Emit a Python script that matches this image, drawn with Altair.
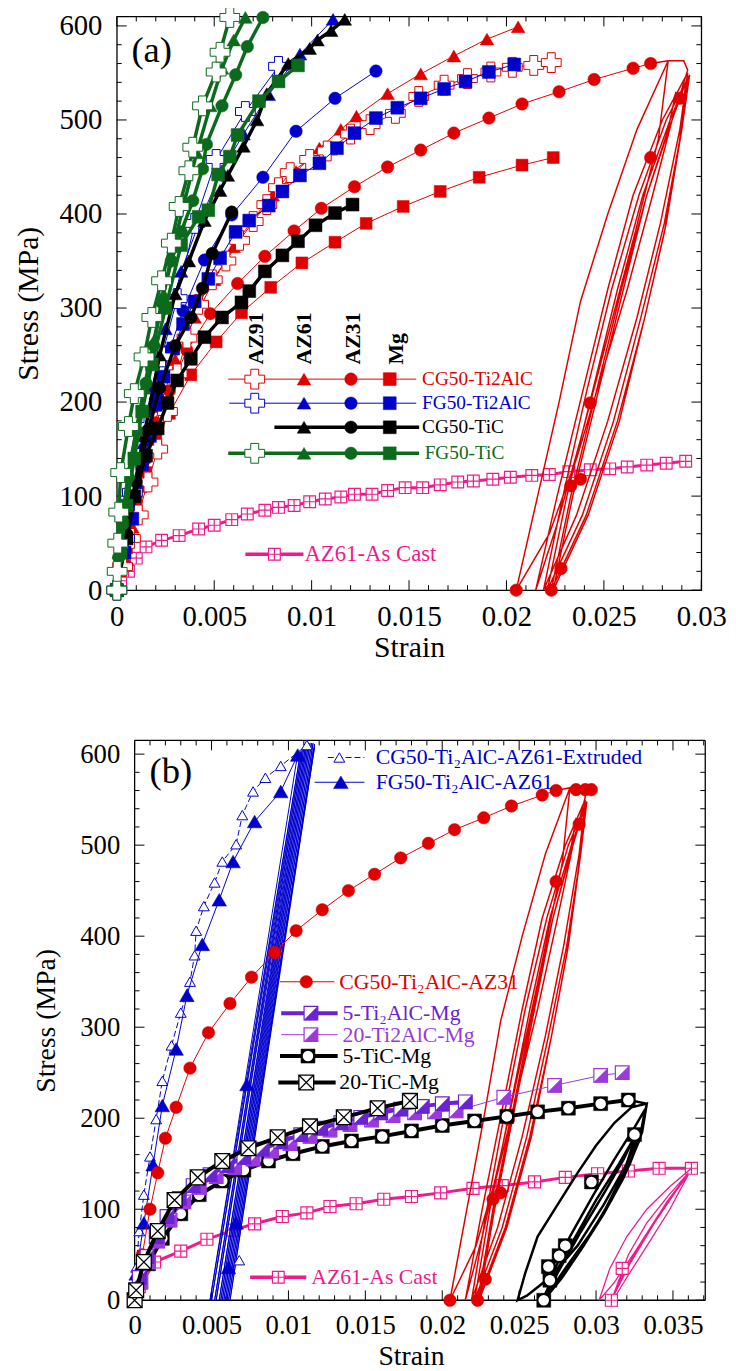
import altair as alt
import pandas as pd

FONT = "Liberation Serif"
RED = "#e00000"; BLUE = "#0000cc"; GREEN = "#0c6a1c"; BLACK = "#000000"
PINK = "#f01a8c"; PURD = "#6b22d2"; PURL = "#9c39dc"

BOXPLUS = "M-1,-1L1,-1L1,1L-1,1Z M0,-1L0,1 M-1,0L1,0"
BOXX = "M-1,-1L1,-1L1,1L-1,1Z M-1,-1L1,1 M1,-1L-1,1"
HALF = "M1,-1L1,1L-1,1Z"

# ======================= panel (a) data =======================
a_x_ticks = [0, 0.005, 0.01, 0.015, 0.02, 0.025, 0.03]
a_x_minor = [0.001, 0.002, 0.003, 0.004, 0.006, 0.007, 0.008, 0.009, 0.011, 0.012, 0.013, 0.014,
             0.016, 0.017, 0.018, 0.019, 0.021, 0.022, 0.023, 0.024, 0.026, 0.027, 0.028, 0.029]
y_ticks = [0, 100, 200, 300, 400, 500, 600]
y_minor = [20, 40, 60, 80, 120, 140, 160, 180, 220, 240, 260, 280, 320, 340, 360, 380,
           420, 440, 460, 480, 520, 540, 560, 580]

# CG50-Ti2AlC (red)
a_rc_x = [0, 0.0003, 0.0007, 0.0011, 0.0016, 0.0021, 0.0026, 0.0031, 0.0036, 0.0042, 0.0049, 0.0056, 0.0063, 0.0070, 0.0077, 0.0083, 0.0089, 0.0099, 0.0108, 0.0120, 0.0130, 0.0143, 0.0155, 0.0168, 0.0180, 0.0192, 0.0203, 0.0214, 0.0223]
a_rc_y = [0, 25, 55, 80, 115, 150, 190, 230, 268, 304, 330, 350, 372, 392, 410, 428, 444, 458, 467, 485, 495, 507, 525, 537, 544, 551, 556, 558, 561]
a_rt_x = [0, 0.0004, 0.0008, 0.0012, 0.0016, 0.0022, 0.0030, 0.0040, 0.0050, 0.0060, 0.0070, 0.0080, 0.0092, 0.0104, 0.0115, 0.0123, 0.0139, 0.0156, 0.0173, 0.0190, 0.0206]
a_rt_y = [0, 35, 67, 110, 153, 195, 245, 290, 330, 365, 395, 420, 445, 470, 490, 504, 528, 549, 568, 586, 599]
a_ro_x = [0, 0.0005, 0.0010, 0.0015, 0.0020, 0.0027, 0.0036, 0.0048, 0.0062, 0.0076, 0.0091, 0.0105, 0.0122, 0.0139, 0.0156, 0.0173, 0.0191, 0.0208, 0.0227, 0.0245, 0.0265, 0.0274]
a_ro_y = [0, 50, 100, 140, 178, 212, 255, 294, 326, 355, 382, 406, 429, 450, 468, 486, 502, 517, 530, 543, 555, 560]
a_rs_x = [0, 0.0005, 0.0010, 0.0015, 0.0020, 0.0027, 0.0038, 0.0051, 0.0064, 0.0079, 0.0095, 0.0112, 0.0128, 0.0147, 0.0166, 0.0186, 0.0208, 0.0224]
a_rs_y = [0, 45, 90, 125, 160, 188, 229, 264, 295, 322, 348, 370, 390, 408, 424, 439, 452, 460]
# FG50-Ti2AlC (blue)
a_bc_x = [0, 0.0004, 0.0008, 0.0012, 0.0016, 0.0023, 0.0031, 0.0040, 0.0051, 0.0066, 0.0083]
a_bc_y = [0, 55, 104, 140, 174, 248, 310, 390, 458, 509, 557]
a_bt_x = [0, 0.0005, 0.0012, 0.0018, 0.0025, 0.0033, 0.0043, 0.0054, 0.0065, 0.0078, 0.0094, 0.0111]
a_bt_y = [0, 65, 150, 215, 278, 339, 395, 446, 485, 527, 570, 607]
a_bo_x = [0, 0.0005, 0.0010, 0.0015, 0.0021, 0.0027, 0.0034, 0.0045, 0.0059, 0.0075, 0.0092, 0.0112, 0.0133]
a_bo_y = [0, 55, 110, 160, 205, 255, 297, 351, 399, 439, 488, 523, 552]
a_bs_x = [0, 0.0004, 0.0008, 0.0013, 0.0017, 0.0020, 0.0024, 0.0029, 0.0034, 0.0040, 0.0047, 0.0053, 0.0061, 0.0068, 0.0078, 0.0085, 0.0094, 0.0104, 0.0113, 0.0122, 0.0133, 0.0144, 0.0156, 0.0168, 0.0179, 0.0191, 0.0204]
a_bs_y = [0, 40, 76, 134, 164, 197, 227, 257, 283, 307, 331, 353, 381, 393, 409, 424, 441, 454, 470, 486, 502, 513, 523, 533, 541, 551, 559]
# CG50-TiC (black)
a_kt_x = [0, 0.0005, 0.0014, 0.0022, 0.0030, 0.0037, 0.0045, 0.0053, 0.0057, 0.0065, 0.0072, 0.0077, 0.0088, 0.0099, 0.0103, 0.0110, 0.0117]
a_kt_y = [0, 65, 164, 250, 315, 350, 393, 425, 441, 472, 500, 528, 560, 576, 585, 595, 607]
a_ko_x = [0, 0.0005, 0.0010, 0.0016, 0.0022, 0.0030, 0.0038, 0.0044, 0.0049, 0.0059]
a_ko_y = [0, 60, 115, 170, 215, 260, 290, 321, 358, 402]
a_ks_x = [0, 0.0005, 0.0009, 0.0015, 0.0021, 0.0026, 0.0031, 0.0038, 0.0045, 0.0054, 0.0064, 0.0068, 0.0076, 0.0085, 0.0093, 0.0102, 0.0112, 0.0121]
a_ks_y = [0, 55, 100, 143, 172, 199, 223, 246, 269, 290, 306, 318, 339, 356, 371, 388, 401, 410]
# FG50-TiC (green)
a_gc_x = [0, 0.00002, 0.00005, 0.0001, 0.0002, 0.0006, 0.0009, 0.0014, 0.0018, 0.0023, 0.0028, 0.0032, 0.0037, 0.0039, 0.0044, 0.0051, 0.0053, 0.0058]
a_gc_y = [0, 20, 50, 83, 125, 174, 209, 248, 290, 329, 369, 408, 446, 471, 515, 551, 572, 609]
a_gt_x = [0, 0.0001, 0.0003, 0.0006, 0.0010, 0.0014, 0.0019, 0.0024, 0.0029, 0.0035, 0.0041, 0.0048, 0.0054, 0.0060, 0.0066]
a_gt_y = [0, 40, 80, 125, 170, 215, 265, 315, 365, 415, 465, 515, 555, 585, 609]
a_go_x = [0, 0.0001, 0.0003, 0.0006, 0.0010, 0.0015, 0.0019, 0.0023, 0.0028, 0.0033, 0.0039, 0.0044, 0.0046, 0.0054, 0.0061, 0.0067, 0.0075]
a_go_y = [0, 35, 70, 120, 170, 220, 260, 306, 350, 381, 414, 448, 474, 515, 548, 578, 609]
a_gs_x = [0, 0.0002, 0.0005, 0.0009, 0.0013, 0.0018, 0.0025, 0.0033, 0.0042, 0.0047, 0.0052, 0.0058, 0.0062, 0.0073, 0.0083, 0.0093]
a_gs_y = [0, 40, 90, 140, 190, 240, 300, 367, 397, 404, 442, 461, 484, 520, 541, 558]
# AZ61 as cast (pink)
a_pk_x = [0, 0.0002, 0.0006, 0.0010, 0.0015, 0.0023, 0.0032, 0.0042, 0.0050, 0.0059, 0.0067, 0.0076, 0.0083, 0.0091, 0.0099, 0.0107, 0.0115, 0.0122, 0.0131, 0.0139, 0.0148, 0.0157, 0.0166, 0.0175, 0.0183, 0.0193, 0.0202, 0.0213, 0.0222, 0.0232, 0.0243, 0.0253, 0.0262, 0.0272, 0.0282, 0.0292]
a_pk_y = [0, 10, 20, 34, 46, 53, 58, 65, 69, 75, 81, 85, 88, 90, 94, 97, 99, 102, 102, 106, 109, 109, 112, 115, 116, 118, 120, 122, 123, 126, 128, 129, 131, 133, 135, 137]

# cyclic loops of CG50-Ti2AlC-AZ31 (used in both panels)
loop_r_x = [0.0274, 0.0283, 0.0291, 0.0293,
            0.0285, 0.0275, 0.0262, 0.0249, 0.0236, 0.0222, 0.0205,
            0.0216, 0.0227, 0.0238, 0.0252, 0.0267, 0.0283,
            0.0278, 0.0266, 0.0252, 0.0238, 0.0226, 0.0215,
            0.0226, 0.0239, 0.0252, 0.0265, 0.0280, 0.0293,
            0.0289, 0.0279, 0.0267, 0.0252, 0.0236, 0.0219,
            0.0229, 0.0241, 0.0254, 0.0268, 0.0282, 0.0294,
            0.0290, 0.0281, 0.0269, 0.0255, 0.0239, 0.0221,
            0.0231, 0.0244, 0.0257, 0.0270, 0.0284, 0.0293,
            0.0290, 0.0282, 0.0271, 0.0257, 0.0241, 0.0223,
            0.0233, 0.0246, 0.0259, 0.0272, 0.0285, 0.0292,
            0.0289, 0.0281, 0.0271, 0.0258, 0.0242, 0.0224,
            0.0234, 0.0247, 0.0260, 0.0272, 0.0283, 0.0287]
loop_r_y = [560, 563, 563, 553,
            500, 420, 320, 230, 140, 60, 0,
            100, 200, 307, 400, 490, 563,
            480, 380, 270, 160, 70, 0,
            100, 210, 320, 420, 500, 550,
            490, 390, 290, 180, 80, 0,
            100, 210, 320, 420, 500, 548,
            490, 390, 290, 180, 80, 0,
            100, 210, 320, 420, 500, 545,
            490, 390, 290, 180, 80, 0,
            100, 210, 320, 420, 500, 540,
            480, 380, 290, 180, 80, 0,
            100, 210, 320, 420, 490, 530]
loop_r_mx = [0.0289, 0.0274, 0.0243, 0.0233, 0.0238, 0.0228, 0.0205, 0.0223]
loop_r_my = [523, 460, 199, 111, 118, 23, 0, 0]

# legend (a)
a_hdr_x = [0.00714, 0.00961, 0.01215, 0.01435]
a_hdr_y = [240, 240, 240, 240]
a_hdr_t = ["AZ91", "AZ61", "AZ31", "Mg"]
a_row_y = [224.4, 198.8, 173.2, 145.5]
a_row_x1 = [0.00572, 0.00577, 0.00809, 0.00572]
a_row_x2 = [0.01537, 0.01537, 0.01552, 0.01552]
a_row_txt = ["CG50-Ti2AlC", "FG50-Ti2AlC", "CG50-TiC", "FG50-TiC"]
a_row_tx = [0.01567, 0.01567, 0.01567, 0.01580]
a_mk_x = [0.00708, 0.00961, 0.01202, 0.01401]
a_cast_leg = (0.0066, 0.00958, 0.00809, 0.00963, 38.2)
a_label = (0.00075, 573.7)

# ======================= panel (b) data =======================
b_x_ticks = [0, 0.005, 0.01, 0.015, 0.02, 0.025, 0.03, 0.035]
b_x_minor = [0.001, 0.002, 0.003, 0.004, 0.006, 0.007, 0.008, 0.009, 0.011, 0.012, 0.013, 0.014,
             0.016, 0.017, 0.018, 0.019, 0.021, 0.022, 0.023, 0.024, 0.026, 0.027, 0.028, 0.029,
             0.031, 0.032, 0.033, 0.034, 0.036, 0.037]
b_frame = [0, 0.0371]
# CG50-Ti2AlC-AZ61-Extruded
b_ex_x = [0, 0.0001, 0.0003, 0.0006, 0.0010, 0.0014, 0.0018, 0.0024, 0.0030, 0.0036, 0.0039, 0.0040, 0.0045, 0.0052, 0.0057, 0.0066, 0.0070, 0.0077, 0.0085, 0.0095, 0.0112]
b_ex_y = [0, 36, 76, 116, 158, 199, 241, 280, 316, 350, 379, 406, 433, 459, 482, 501, 533, 559, 574, 587, 610]
# FG50-Ti2AlC-AZ61
b_fg_x = [0, 0.0001, 0.0006, 0.0012, 0.0018, 0.0027, 0.0034, 0.0044, 0.0055, 0.0064, 0.0078, 0.0095, 0.0106]
b_fg_y = [0, 29, 85, 149, 214, 276, 335, 391, 440, 482, 526, 559, 599]
# unloading band (blue)
band_x = [0.0106, 0.0049, 0.0108, 0.0050, 0.0109, 0.0052, 0.0110, 0.0053, 0.0111, 0.0055, 0.0112, 0.0056,
          0.0113, 0.0057, 0.0114, 0.0058, 0.0115, 0.0059, 0.0116, 0.0060, 0.0117, 0.0061, 0.0117, 0.0062, 0.0116]
band_y = [600, 0, 603, 0, 605, 0, 607, 0, 608, 0, 610, 0, 611, 0, 612, 0, 612, 0, 612, 0, 611, 0, 608, 0, 604]
band_ft_x = [0.0073, 0.0066, 0.0061]
band_ft_y = [237, 85, 36]
band_ot_x = [0.0068]
band_ot_y = [44]
# 5-Ti2AlC-Mg
b_p5_x = [0, 0.0003, 0.0008, 0.0014, 0.0021, 0.0029, 0.0038, 0.0049, 0.0060, 0.0071, 0.0083, 0.0095, 0.0108, 0.0121, 0.0134, 0.0147, 0.0160, 0.0173, 0.0187, 0.0200, 0.0215]
b_p5_y = [0, 25, 48, 70, 92, 112, 126, 138, 148, 157, 166, 174, 182, 189, 195, 201, 206, 210, 213, 216, 218]
# 20-Ti2AlC-Mg
b_p20_x = [0, 0.0004, 0.0009, 0.0015, 0.0023, 0.0032, 0.0042, 0.0053, 0.0065, 0.0077, 0.0089, 0.0101, 0.0114, 0.0127, 0.0140, 0.0154, 0.0168, 0.0182, 0.0195, 0.0209, 0.0240, 0.0273, 0.0303, 0.0317]
b_p20_y = [0, 20, 42, 65, 88, 108, 124, 136, 146, 155, 164, 172, 180, 187, 193, 198, 203, 206, 207, 208, 223, 236, 247, 250]
# 5-TiC-Mg
b_t5_x = [0, 0.0004, 0.0009, 0.0018, 0.0030, 0.0042, 0.0057, 0.0071, 0.0087, 0.0103, 0.0122, 0.0141, 0.0161, 0.0180, 0.0200, 0.0221, 0.0242, 0.0262, 0.0282, 0.0303, 0.0321]
b_t5_y = [0, 20, 40, 68, 95, 116, 131, 143, 153, 161, 169, 175, 180, 186, 192, 197, 202, 207, 211, 216, 220]
loop_t5_x = [0.0321, 0.0333,
             0.0330, 0.0320, 0.0305, 0.0288, 0.0270, 0.0255, 0.0249,
             0.0254, 0.0262, 0.0275, 0.0288, 0.0300, 0.0312, 0.0323, 0.0333,
             0.0330, 0.0322, 0.0310, 0.0295, 0.0280, 0.0266,
             0.0272, 0.0283, 0.0298, 0.0312, 0.0325, 0.0332,
             0.0328, 0.0318, 0.0305, 0.0290, 0.0275, 0.0265,
             0.0272, 0.0285, 0.0300, 0.0315, 0.0326,
             0.0318, 0.0306, 0.0292, 0.0278, 0.0266,
             0.0275, 0.0290, 0.0306, 0.0318, 0.0325]
loop_t5_y = [220, 216,
             190, 150, 105, 60, 25, 5, 0,
             30, 70, 105, 140, 170, 195, 212, 216,
             185, 150, 110, 70, 35, 0,
             30, 70, 115, 155, 190, 210,
             175, 135, 95, 55, 20, 0,
             25, 65, 110, 150, 182,
             140, 100, 60, 25, 0,
             30, 75, 120, 155, 180]
loop_t5_mx = [0.0325, 0.0297, 0.0280, 0.0276, 0.0269, 0.0270, 0.0266]
loop_t5_my = [182, 130, 60, 49, 37, 22, 0]
# 20-TiC-Mg
b_t20_x = [0, 0.0001, 0.0006, 0.0015, 0.0026, 0.0041, 0.0057, 0.0074, 0.0093, 0.0114, 0.0136, 0.0158, 0.0179]
b_t20_y = [0, 11, 42, 76, 110, 135, 153, 167, 179, 191, 201, 211, 219]
# AZ61 as cast
b_pk_x = [0, 0.0003, 0.0013, 0.0030, 0.0047, 0.0064, 0.0078, 0.0096, 0.0112, 0.0127, 0.0144, 0.0162, 0.0180, 0.0199, 0.0220, 0.0239, 0.0260, 0.0280, 0.0301, 0.0321, 0.0341, 0.0362]
b_pk_y = [0, 15, 42, 54, 67, 77, 84, 92, 96, 103, 106, 111, 114, 118, 123, 126, 130, 135, 139, 142, 145, 145]
loop_pk_x = [0.0362, 0.0348, 0.0333, 0.0320, 0.0309, 0.0302,
             0.0312, 0.0326, 0.0341, 0.0354, 0.0360,
             0.0347, 0.0333, 0.0321, 0.0310,
             0.0318, 0.0332, 0.0346, 0.0358,
             0.0345, 0.0330, 0.0316, 0.0310,
             0.0322, 0.0338, 0.0352, 0.0360,
             0.0348, 0.0335, 0.0320, 0.0311]
loop_pk_y = [145, 125, 100, 70, 35, 0,
             20, 55, 95, 125, 140,
             115, 85, 50, 0,
             30, 70, 108, 135,
             105, 65, 25, 0,
             40, 85, 120, 138,
             100, 65, 25, 0]
loop_pk_mx = [0.0310, 0.0317]
loop_pk_my = [0, 35]
b_red_top_x = [0.0287, 0.0293, 0.0297]
b_red_top_y = [561, 561, 561]

# legend (b)
b_leg_y = [596.3, 569.1, 349.9, 315.4, 291.8, 268.3, 239.3, 25.3]
b_leg_x1 = [0.01256, 0.0117, 0.00945, 0.00953, 0.00953, 0.00945, 0.00934, 0.00751]
b_leg_x2 = [0.01494, 0.01494, 0.01299, 0.0132, 0.0132, 0.0132, 0.01307, 0.01116]
b_leg_mx = [0.01331, 0.01341, 0.01116, 0.01146, 0.01146, 0.01127, 0.01116, 0.00934]
b_leg_tx = [0.01567, 0.01567, 0.01331, 0.01352, 0.01352, 0.01352, 0.01331, 0.01148]
b_leg_txt = ["CG50-Ti\u2082AlC-AZ61-Extruded", "FG50-Ti\u2082AlC-AZ61", "CG50-Ti\u2082AlC-AZ31",
             "5-Ti\u2082AlC-Mg", "20-Ti2AlC-Mg", "5-TiC-Mg", "20-TiC-Mg", "AZ61-As Cast"]
b_label = (0.00097, 580.7)

# ======================= helpers =======================
A_W, A_H = 591, 580
B_OFF = 18                      # panel (b) frame starts this far right of panel (a)'s
B_W, B_H = 577, 566
B_XMIN = -0.00116               # invisible strip left of panel (b)'s frame


def make_enc(xdom, ydom, xvals, lab, tit, lpx, lpy, tpx, tpy, yoff=0):
    def X(field="x"):
        return alt.X(f"{field}:Q", scale=alt.Scale(domain=xdom, nice=False, zero=False),
                     axis=alt.Axis(values=xvals, format="~g", title="Strain", labelFontSize=lab,
                                   titleFontSize=tit, labelPadding=lpx, titlePadding=tpx,
                                   labelFont=FONT, titleFont=FONT, labelColor="black",
                                   titleColor="black", titleFontWeight="normal",
                                   labelFlush=False, labelOverlap=False, domain=False, ticks=False,
                                   grid=False))

    def Y(field="y"):
        return alt.Y(f"{field}:Q", scale=alt.Scale(domain=ydom, nice=False, zero=False),
                     axis=alt.Axis(values=y_ticks, title="Stress (MPa)", labelFontSize=lab,
                                   titleFontSize=tit, labelPadding=lpy, titlePadding=tpy,
                                   labelFont=FONT, titleFont=FONT, labelColor="black",
                                   titleColor="black", titleFontWeight="normal",
                                   labelFlush=False, labelOverlap=False, domain=False, ticks=False,
                                   grid=False, offset=yoff))
    return X, Y


def xy(xs, ys):
    return pd.DataFrame({"x": xs, "y": ys, "o": list(range(len(xs)))})


def line(xs, ys, X, Y, color, sw, dash=None):
    kw = dict(color=color, strokeWidth=sw, clip=False)
    if dash:
        kw["strokeDash"] = dash
    return alt.Chart(xy(xs, ys)).mark_line(**kw).encode(x=X(), y=Y(), order="o:Q")


def pt(df, X, Y, shape, size, fill, stroke, sw=1.0):
    return alt.Chart(df).mark_point(shape=shape, size=size, fill=fill, stroke=stroke, strokeWidth=sw,
                                    filled=True, opacity=1, fillOpacity=1, strokeOpacity=1).encode(x=X(), y=Y())


def markers(xs, ys, X, Y, kind, color, k=1.0):
    df = xy(xs, ys)
    if kind == "cross":
        return [pt(df, X, Y, "cross", 400 * k, "white", color, 1.0)]
    if kind == "tri":
        return [pt(df, X, Y, "triangle-up", 190 * k, color, color, 0.5)]
    if kind == "circle":
        return [pt(df, X, Y, "circle", 160 * k, color, color, 0.5)]
    if kind == "square":
        return [pt(df, X, Y, "square", 170 * k, color, color, 0.5)]
    if kind == "boxplus":
        return [pt(df, X, Y, BOXPLUS, 140 * k, "white", color, 1.2)]
    if kind == "tri_open":
        return [pt(df, X, Y, "triangle-up", 120 * k, "white", color, 1.0)]
    if kind == "half":
        return [pt(df, X, Y, "square", 190 * k, "white", color, 1.2),
                pt(df, X, Y, HALF, 190 * k, color, color, 0.5)]
    if kind == "circsq":
        return [pt(df, X, Y, "square", 200 * k, "black", "black", 0.5),
                pt(df, X, Y, "circle", 150 * k, "white", "black", 1.6)]
    if kind == "boxx":
        return [pt(df, X, Y, BOXX, 225 * k, "white", "black", 1.3)]
    return []


def series(xs, ys, X, Y, color, sw, kind, k=1.0, dash=None):
    return [line(xs, ys, X, Y, color, sw, dash)] + markers(xs, ys, X, Y, kind, color, k)


def frame_ticks(X, Y, xmaj, xmin, ymaj, ymin, W, H, x0=0):
    L, S = 10, 5
    out = []
    for vals, ln in ((xmaj, L), (xmin, S)):
        d = pd.DataFrame({"x": vals})
        out.append(alt.Chart(d).mark_rule(color="black", strokeWidth=1).encode(
            x=X(), y=alt.value(H), y2=alt.value(H - ln)))
        out.append(alt.Chart(d).mark_rule(color="black", strokeWidth=1).encode(
            x=X(), y=alt.value(0), y2=alt.value(ln)))
    for vals, ln in ((ymaj, L), (ymin, S)):
        d = pd.DataFrame({"y": vals})
        out.append(alt.Chart(d).mark_rule(color="black", strokeWidth=1).encode(
            y=Y(), x=alt.value(x0), x2=alt.value(x0 + ln)))
        out.append(alt.Chart(d).mark_rule(color="black", strokeWidth=1).encode(
            y=Y(), x=alt.value(W), x2=alt.value(W - ln)))
    return out


def seg(x1, x2, y, X, Y, color, sw, dash=None):
    d = pd.DataFrame({"x": [x1], "x2": [x2], "y": [y]})
    kw = dict(color=color, strokeWidth=sw)
    if dash:
        kw["strokeDash"] = dash
    return alt.Chart(d).mark_rule(**kw).encode(x=X(), x2="x2:Q", y=Y())


def text(x, y, t, X, Y, color, size, **kw):
    d = pd.DataFrame({"x": [x], "y": [y], "t": [t]})
    return alt.Chart(d).mark_text(color=color, fontSize=size, font=FONT, align="left",
                                  baseline="middle", **kw).encode(x=X(), y=Y(), text="t:N")


# ======================= panel (a) =======================
XA, YA = make_enc([0, 0.03], [0, 610], a_x_ticks, 29, 30, 13, 15, 1, 16)
la = []
la += frame_ticks(XA, YA, a_x_ticks, a_x_minor, y_ticks, y_minor, A_W, A_H)
la += series(a_pk_x, a_pk_y, XA, YA, PINK, 3, "boxplus")
la += [line(loop_r_x, loop_r_y, XA, YA, RED, 1.5)]
la += markers(loop_r_mx, loop_r_my, XA, YA, "circle", RED)
la += series(a_rs_x, a_rs_y, XA, YA, RED, 1, "square", 0.85)
la += series(a_ro_x, a_ro_y, XA, YA, RED, 1, "circle")
la += series(a_rt_x, a_rt_y, XA, YA, RED, 1, "tri")
la += series(a_rc_x, a_rc_y, XA, YA, RED, 1, "cross")
la += series(a_bs_x, a_bs_y, XA, YA, BLUE, 1, "square")
la += series(a_bo_x, a_bo_y, XA, YA, BLUE, 1, "circle")
la += series(a_bt_x, a_bt_y, XA, YA, BLUE, 1, "tri")
la += series(a_bc_x, a_bc_y, XA, YA, BLUE, 1, "cross")
la += series(a_ks_x, a_ks_y, XA, YA, BLACK, 3.5, "square")
la += series(a_ko_x, a_ko_y, XA, YA, BLACK, 3.5, "circle")
la += series(a_kt_x, a_kt_y, XA, YA, BLACK, 3.5, "tri")
la += series(a_gs_x, a_gs_y, XA, YA, GREEN, 3.5, "square")
la += series(a_go_x, a_go_y, XA, YA, GREEN, 3.5, "circle")
la += series(a_gt_x, a_gt_y, XA, YA, GREEN, 3.5, "tri")
la += series(a_gc_x, a_gc_y, XA, YA, GREEN, 3.5, "cross")
# legend (a)
for hx, hy, ht in zip(a_hdr_x, a_hdr_y, a_hdr_t):
    la.append(text(hx, hy, ht, XA, YA, "black", 22, angle=270, fontWeight="bold"))
row_cols = [RED, BLUE, BLACK, GREEN]
row_sw = [1, 1, 3.5, 3.5]
row_kinds = [["cross", "tri", "circle", "square"], ["cross", "tri", "circle", "square"],
             [None, "tri", "circle", "square"], ["cross", "tri", "circle", "square"]]
for i in range(4):
    la.append(seg(a_row_x1[i], a_row_x2[i], a_row_y[i], XA, YA, row_cols[i], row_sw[i]))
    for j, kind in enumerate(row_kinds[i]):
        if kind:
            la += markers([a_mk_x[j]], [a_row_y[i]], XA, YA, kind, row_cols[i])
    la.append(text(a_row_tx[i], a_row_y[i], a_row_txt[i], XA, YA, row_cols[i], 19.5))
la.append(seg(a_cast_leg[0], a_cast_leg[1], a_cast_leg[4], XA, YA, PINK, 3.5))
la += markers([a_cast_leg[2]], [a_cast_leg[4]], XA, YA, "boxplus", PINK)
la.append(text(a_cast_leg[3], a_cast_leg[4], "AZ61-As Cast", XA, YA, PINK, 23))
la.append(text(a_label[0], a_label[1], "(a)", XA, YA, "black", 37))

panel_a = alt.layer(*la).properties(width=A_W, height=A_H)

# ======================= panel (b) =======================
XB, YB = make_enc([B_XMIN, 0.0371], [0, 615], b_x_ticks, 27, 28, 13, 15, 4, 19, yoff=-B_OFF)
lb = []
lb += frame_ticks(XB, YB, b_x_ticks, b_x_minor, y_ticks, y_minor, B_OFF + B_W, B_H, x0=B_OFF)
# frame of panel (b)
fr = pd.DataFrame({"x": [b_frame[0]], "x2": [b_frame[1]]})
lb.append(alt.Chart(fr).mark_rule(color="black", strokeWidth=1.3).encode(
    x=XB(), x2="x2:Q", y=alt.value(0)))
lb.append(alt.Chart(fr).mark_rule(color="black", strokeWidth=1.3).encode(
    x=XB(), x2="x2:Q", y=alt.value(B_H)))
lb.append(alt.Chart(fr).mark_rule(color="black", strokeWidth=1.3).encode(
    x=XB(), y=alt.value(0), y2=alt.value(B_H)))
lb.append(alt.Chart(fr).mark_rule(color="black", strokeWidth=1.3).encode(
    x=XB("x2"), y=alt.value(0), y2=alt.value(B_H)))
lb += series(b_pk_x, b_pk_y, XB, YB, PINK, 3, "boxplus", 1.05)
lb += [line(loop_pk_x, loop_pk_y, XB, YB, PINK, 1.3)]
lb += markers(loop_pk_mx, loop_pk_my, XB, YB, "boxplus", PINK, 1.05)
lb += [line(band_x, band_y, XB, YB, BLUE, 1)]
lb += series(b_ex_x, b_ex_y, XB, YB, BLUE, 1, "tri_open", dash=[6, 3])
lb += series(b_fg_x, b_fg_y, XB, YB, BLUE, 1, "tri", 1.15)
lb += markers(band_ft_x, band_ft_y, XB, YB, "tri", BLUE, 1.15)
lb += markers(band_ot_x, band_ot_y, XB, YB, "tri_open", BLUE)
lb += [line(loop_r_x, loop_r_y, XB, YB, RED, 1.5)]
lb += markers(loop_r_mx, loop_r_my, XB, YB, "circle", RED)
lb += markers(b_red_top_x, b_red_top_y, XB, YB, "circle", RED)
lb += series(a_ro_x, a_ro_y, XB, YB, RED, 1, "circle")
lb += [line(loop_t5_x, loop_t5_y, XB, YB, BLACK, 2.5)]
lb += markers(loop_t5_mx, loop_t5_my, XB, YB, "circsq", BLACK)
lb += series(b_t5_x, b_t5_y, XB, YB, BLACK, 4, "circsq")
lb += series(b_p20_x, b_p20_y, XB, YB, PURL, 1, "half")
lb += series(b_p5_x, b_p5_y, XB, YB, PURD, 4, "half")
lb += series(b_t20_x, b_t20_y, XB, YB, BLACK, 4, "boxx")
# legend (b)
leg_cols = [BLUE, BLUE, RED, PURD, PURL, BLACK, BLACK, PINK]
leg_sw = [1, 1, 1, 4, 1, 4, 4, 3.5]
leg_kind = ["tri_open", "tri", "circle", "half", "half", "circsq", "boxx", "boxplus"]
for i in range(8):
    lb.append(seg(b_leg_x1[i], b_leg_x2[i], b_leg_y[i], XB, YB, leg_cols[i], leg_sw[i],
                  dash=[6, 3] if i == 0 else None))
    lb += markers([b_leg_mx[i]], [b_leg_y[i]], XB, YB, leg_kind[i], leg_cols[i],
                  1.15 if leg_kind[i] == "tri" else 1.0)
    lb.append(text(b_leg_tx[i], b_leg_y[i], b_leg_txt[i], XB, YB, leg_cols[i], 22))
lb.append(text(b_label[0], b_label[1], "(b)", XB, YB, "black", 37))

panel_b = alt.layer(*lb).properties(width=B_OFF + B_W, height=B_H,
                                    view=alt.ViewBackground(stroke="transparent"))

chart = alt.vconcat(panel_a, panel_b, spacing=75).properties(
    padding={"left": 4, "top": -11, "right": 0, "bottom": 0}
).configure_view(stroke="black", strokeWidth=1.3)

chart.save("out.html", embed_options={"renderer": "svg", "actions": False})
